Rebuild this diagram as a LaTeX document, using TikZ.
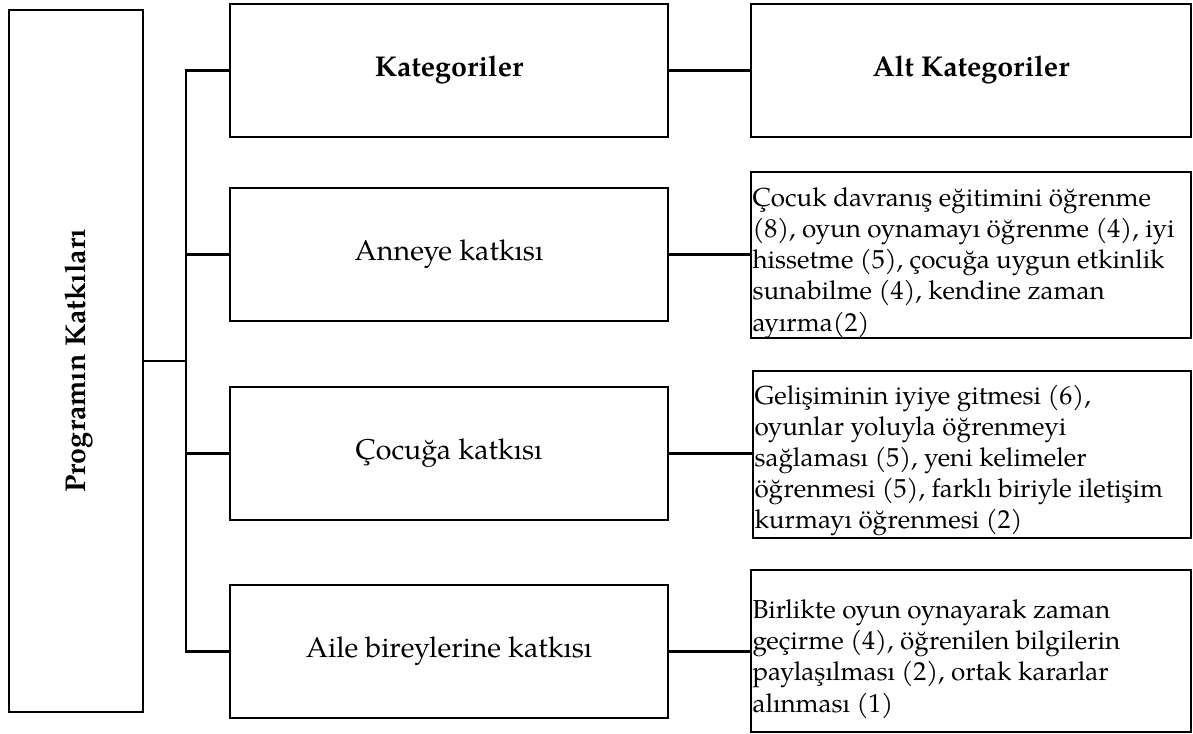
\documentclass[tikz,border=0pt]{standalone}
\usepackage{fontspec}
\setmainfont{TeX Gyre Pagella}
\begin{document}
\begin{tikzpicture}[x=0.5pt,y=-0.5pt,
  every node/.style={font=\fontsize{14.3}{17}\selectfont},
  headfont/.style={font=\fontsize{14.3}{17}\selectfont\bfseries},
  frame/.style={draw, line width=1.3pt, inner sep=0pt},
  catbox/.style={frame, minimum width=219pt, minimum height=66.5pt},
  subbox/.style={frame, minimum width=220pt},
  subtext/.style={font=\fontsize{13}{15.6}\selectfont, align=left, inner xsep=1.2pt, inner ysep=0pt, anchor=west},
  link/.style={line width=1.3pt}]
\useasboundingbox (0,0) rectangle (1193,733);
\node[frame, minimum width=67pt, minimum height=351pt] (prog) at (76,361) {};
\node[rotate=90, headfont] (progtxt) at (79,361) {Programın Katkıları};
\node[catbox, headfont] (kat) at (449,70.5) {Kategoriler};
\node[catbox] (anne) at (449,254.5) {Anneye katkısı};
\node[catbox] (cocuk) at (449,453.5) {Çocuğa katkısı};
\node[catbox] (aile) at (449,651.5) {Aile bireylerine katkısı};
\node[frame, headfont, minimum width=220pt, minimum height=66.5pt] (alt) at (971,70.5) {Alt Kategoriler};
\node[subbox, minimum height=83pt] (r1) at (971,255) {};
\node[subbox, minimum width=219pt, minimum height=83.5pt] (r2) at (972,454.5) {};
\node[subbox, minimum height=81pt] (r3) at (971,651) {};
\node[subtext] (r1t) at ([yshift=-4pt]r1.west) {Çocuk davranış eğitimini öğrenme\\(8), oyun oynamayı öğrenme (4), iyi\\hissetme (5), çocuğa uygun etkinlik\\sunabilme (4), kendine zaman\\ayırma(2)};
\node[subtext] (r2t) at ([yshift=-3pt]r2.west) {Gelişiminin iyiye gitmesi (6),\\oyunlar yoluyla öğrenmeyi\\sağlaması (5), yeni kelimeler\\öğrenmesi (5), farklı biriyle iletişim\\kurmayı öğrenmesi (2)};
\node[subtext] (r3t) at ([yshift=-4pt]r3.west) {Birlikte oyun oynayarak zaman\\geçirme (4), öğrenilen bilgilerin\\paylaşılması (2), ortak kararlar\\alınması (1)};
\coordinate (jt) at (186,361);
\draw[link] (prog.east) -- (jt);
\draw[link] (kat.west) -| (jt) |- (aile.west);
\draw[link] (anne.west) -| (jt);
\draw[link] (cocuk.west) -| (jt);
\draw[link] (kat.east) -- (kat.east -| alt.west);
\draw[link] (anne.east) -- (anne.east -| r1.west);
\draw[link] (cocuk.east) -- (cocuk.east -| r2.west);
\draw[link] (aile.east) -- (aile.east -| r3.west);
\end{tikzpicture}
\end{document}
